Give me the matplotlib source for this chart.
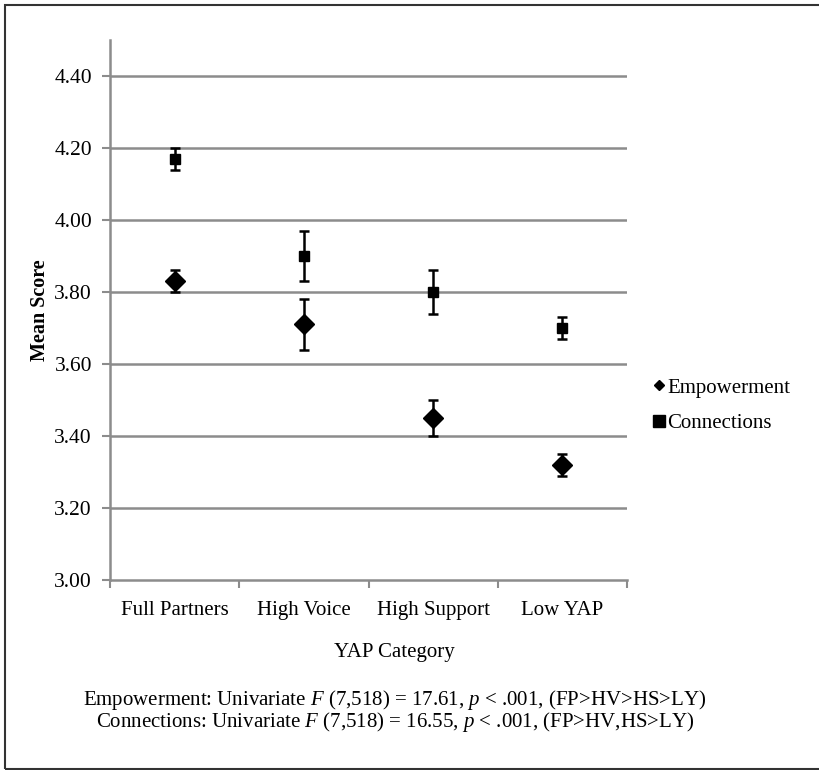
import matplotlib
matplotlib.use("Agg")
import matplotlib.pyplot as plt
from matplotlib.patches import Rectangle
from matplotlib.lines import Line2D
import numpy as np

categories = ["Full Partners", "High Voice", "High Support", "Low YAP"]
empowerment = [3.83, 3.71, 3.45, 3.32]
empowerment_err = [0.03, 0.07, 0.05, 0.03]
connections = [4.17, 3.90, 3.80, 3.70]
connections_err = [0.03, 0.07, 0.06, 0.03]
y_ticks = [3.00, 3.20, 3.40, 3.60, 3.80, 4.00, 4.20, 4.40]

plt.rcParams['font.family'] = ['Liberation Serif', 'DejaVu Serif']
plt.rcParams['mathtext.fontset'] = 'custom'
plt.rcParams['mathtext.rm'] = 'Liberation Serif'
plt.rcParams['mathtext.it'] = 'Liberation Serif:italic'
plt.rcParams['mathtext.bf'] = 'Liberation Serif:bold'

W, H = 819, 770
fig = plt.figure(figsize=(W / 100, H / 100), dpi=100)
ax = fig.add_axes([110 / W, 1 - 580 / H, (627 - 110) / W, (580 - 40) / H])

x = np.arange(len(categories))
grid_c = "#8c8c8c"
for yt in y_ticks[1:]:
    ax.axhline(yt, color=grid_c, lw=1.8, zorder=1)

ax.errorbar(x, empowerment, yerr=empowerment_err, fmt='D', color='black', ms=10,
            ecolor='black', elinewidth=1.8, capsize=3.6, capthick=1.8, zorder=3,
            label='Empowerment')
ax.errorbar(x, connections, yerr=connections_err, fmt='s', color='black', ms=7.5,
            ecolor='black', elinewidth=1.8, capsize=3.6, capthick=1.8, zorder=3,
            label='Connections')

ax.set_xlim(-0.5, len(categories) - 0.5)
ax.set_ylim(3.0, 4.5)
ax.set_yticks(y_ticks)
ax.set_yticklabels([f"{v:.2f}" for v in y_ticks], fontsize=15.5)
ax.set_xticks(x)
ax.set_xticklabels(categories, fontsize=15)
ax.set_xticks(np.arange(len(categories) + 1) - 0.5, minor=True)
ax.tick_params(axis='x', which='major', length=0, pad=15)
ax.tick_params(axis='x', which='minor', length=6, color=grid_c, width=1.5, direction='out')
ax.tick_params(axis='y', length=6, color=grid_c, width=1.5, direction='out', pad=7)

for s in ['top', 'right']:
    ax.spines[s].set_visible(False)
for s in ['left', 'bottom']:
    ax.spines[s].set_color(grid_c)
    ax.spines[s].set_linewidth(1.8)

ax.set_ylabel("Mean Score", fontsize=14.5, fontweight='bold', labelpad=3)

fig.text(394 / W, 1 - 653 / H, "YAP Category", ha='center', va='center', fontsize=15)

handles = [Line2D([], [], marker='D', color='black', ls='none', ms=5.5),
           Line2D([], [], marker='s', color='black', ls='none', ms=8)]
fig.legend(handles, ['Empowerment', 'Connections'], loc='upper left',
           bbox_to_anchor=(653 / W, 1 - 378 / H), frameon=False, fontsize=15,
           handlelength=0.6, handletextpad=0.1, labelspacing=0.75,
           borderaxespad=0, borderpad=0)

fig.text(395 / W, 1 - 700 / H,
         r"Empowerment: Univariate $\mathit{F}$ (7,518) = 17.61, $\mathit{p}$ < .001, (FP>HV>HS>LY)",
         ha='center', va='center', fontsize=15)
fig.text(395 / W, 1 - 722 / H,
         r"Connections: Univariate $\mathit{F}$ (7,518) = 16.55, $\mathit{p}$ < .001, (FP>HV,HS>LY)",
         ha='center', va='center', fontsize=15)

fig.patches.append(Rectangle((5 / W, 1 / H), (W + 10) / W, (H - 6) / H,
                             transform=fig.transFigure, fill=False,
                             edgecolor='#333333', lw=1.5))

fig.savefig("out.png", dpi=100)
